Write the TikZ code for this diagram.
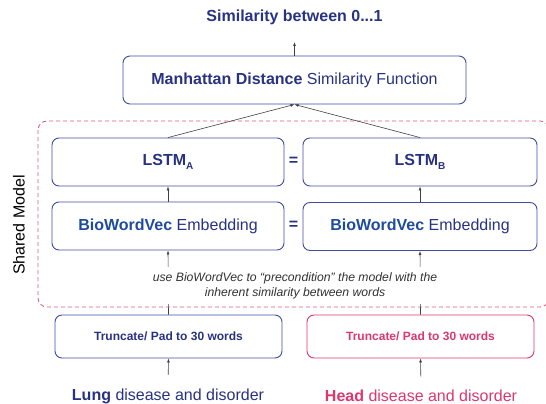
\documentclass[tikz,border=0pt]{standalone}
\usepackage{fontspec}
\setmainfont{Liberation Sans}
\usetikzlibrary{arrows.meta}

\definecolor{navy}{RGB}{40,50,130}
\definecolor{bioblue}{RGB}{30,75,160}
\definecolor{boxblue}{RGB}{65,75,160}
\definecolor{rose}{RGB}{220,55,110}

\tikzset{
	block/.style={draw=boxblue, line width=0.9pt, rounded corners=7pt, align=center, text=navy, font=\fontsize{16}{18}\selectfont},
	arr/.style={-{Latex[length=4pt,width=3pt]}, draw=black!75, line width=0.6pt},
}

\begin{document}
\begin{tikzpicture}[x=1pt,y=-1pt]
	\useasboundingbox (0,0) rectangle (546,404);

	%shared model frame
	\draw[rose!85, line width=0.8pt, dash pattern=on 4pt off 3pt, rounded corners=9pt] (38,121) rectangle (549,307);
	\node[rotate=90, font=\fontsize{16}{18}\selectfont] (shared) at (19,225) {Shared Model};

	%top
	\node[text=navy, font=\bfseries\fontsize{16}{18}\selectfont] (out) at (294.5,17) {Similarity between 0...1};
	\coordinate (outtip) at (294.5,42);
	\node[block, minimum width=343pt, minimum height=48pt] (manhattan) at (294.5,80) {\textbf{Manhattan Distance} Similarity Function};

	%lstm layer
	\node[block, minimum width=232pt, minimum height=48pt] (lstmA) at (168,162) {\textbf{LSTM\raisebox{-3.5pt}{\fontsize{10}{10}\selectfont A}}};
	\node[block, minimum width=234pt, minimum height=48pt] (lstmB) at (420,162) {\textbf{LSTM\raisebox{-3.5pt}{\fontsize{10}{10}\selectfont B}}};
	\node[text=navy, font=\bfseries\fontsize{16}{18}\selectfont] (eqlstm) at (293.5,161) {=};

	%embedding layer
	\node[block, minimum width=232pt, minimum height=48pt] (embA) at (168,226) {\textcolor{bioblue}{\textbf{BioWordVec}} Embedding};
	\node[block, minimum width=234pt, minimum height=48pt] (embB) at (420,226.5) {\textcolor{bioblue}{\textbf{BioWordVec}} Embedding};
	\node[text=navy, font=\bfseries\fontsize{16}{18}\selectfont] (eqemb) at (293.5,225) {=};

	%inputs
	\node[block, minimum width=227pt, minimum height=43pt, font=\bfseries\fontsize{12}{14}\selectfont] (truncA) at (168.5,336.5) {Truncate/ Pad to 30 words};
	\node[block, draw=rose, text=rose, minimum width=227pt, minimum height=43pt, font=\bfseries\fontsize{12}{14}\selectfont] (truncB) at (420.5,336.5) {Truncate/ Pad to 30 words};
	\node[text=navy, font=\fontsize{16}{18}\selectfont] (lung) at (168,396) {\textbf{Lung} disease and disorder};
	\node[text=rose, font=\fontsize{16}{18}\selectfont] (head) at (421,396) {\textbf{Head} disease and disorder};

	%arrows
	\draw[arr] (manhattan.north) -- (outtip);
	\draw[arr] (lstmA.north) -- (manhattan.south);
	\draw[arr] (lstmB.north) -- (manhattan.south);
	\draw[arr] (embA.north) -- (lstmA.south);
	\draw[arr] (embB.north) -- (lstmB.south);
	\draw[arr] (truncA.north) -- (embA.south);
	\draw[arr] (truncB.north) -- (embB.south);
	\draw[arr, shorten <=10pt] (lung.north) -- (truncA.south);
	\draw[arr, shorten <=10pt] (head.north) -- (truncB.south);

	%note over the input arrows
	\node[fill=white, align=center, inner xsep=2pt, inner ysep=5pt, text=black!80, font=\itshape\fontsize{12.2}{15}\selectfont] (note) at (295,285.5) {use BioWordVec to \textquotedblleft precondition\textquotedblright\ the model with the\\inherent similarity between words};
\end{tikzpicture}
\end{document}
